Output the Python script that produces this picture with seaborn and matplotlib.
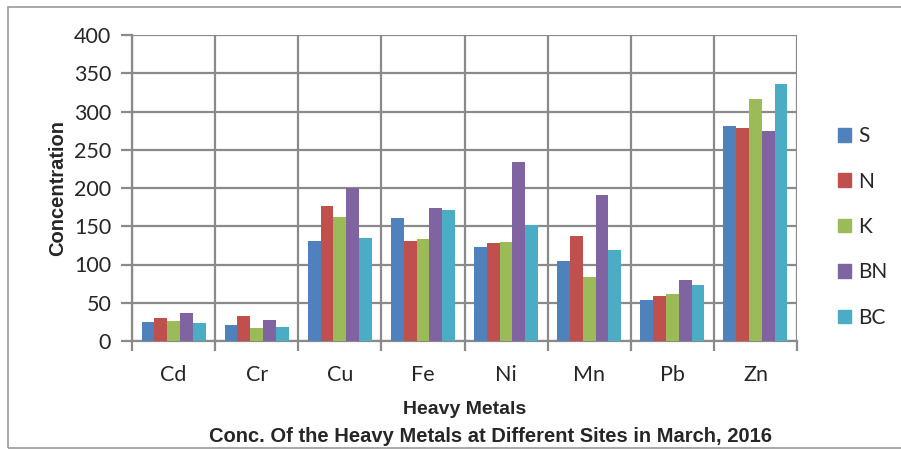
import matplotlib
matplotlib.use("Agg")
import matplotlib.pyplot as plt
import matplotlib.patches as mpatches
import pandas
import seaborn as sns

metals = ["Cd", "Cr", "Cu", "Fe", "Ni", "Mn", "Pb", "Zn"]
sites = ["S", "N", "K", "BN", "BC"]
site_s = [25, 21, 131, 161, 123, 104, 54, 281]
site_n = [30, 33, 177, 131, 128, 137, 59, 279]
site_k = [26, 17, 162, 133, 129, 84, 61, 316]
site_bn = [36, 28, 200, 174, 234, 191, 80, 275]
site_bc = [23, 18, 135, 171, 151, 119, 73, 336]
yticks = [0, 50, 100, 150, 200, 250, 300, 350, 400]

colors = ["#4F81BD", "#C0504D", "#9BBB59", "#8064A2", "#4BACC6"]
grid_color = "#8A8A8A"


def build_frame():
    rows = []
    for site, vals in zip(sites, [site_s, site_n, site_k, site_bn, site_bc]):
        for metal, v in zip(metals, vals):
            rows.append({"metal": metal, "site": site, "value": v})
    return pandas.DataFrame(rows)


def main():
    df = build_frame()
    sns.set_style("white")
    plt.rcParams["font.family"] = ["Lato", "DejaVu Sans"]

    fig = plt.figure(figsize=(9.01, 4.49), dpi=100)
    ax = fig.add_axes([132 / 901, 108 / 449, 665 / 901, 306 / 449])

    sns.barplot(
        data=df, x="metal", y="value", hue="site", order=metals,
        hue_order=sites, palette=colors, width=0.77, saturation=1,
        ax=ax, legend=False, zorder=3,
    )
    for p in ax.patches:
        p.set_linewidth(0)

    ax.set_ylim(0, 400)
    ax.set_yticks(yticks)
    ax.set_yticklabels([str(t) for t in yticks], fontsize=15.5)
    ax.set_xlim(-0.5, len(metals) - 0.5)
    ax.set_xticks(range(len(metals)))
    ax.set_xticklabels(metals, fontsize=15.5)
    ax.set_xticks([i - 0.5 for i in range(len(metals) + 1)], minor=True)

    ax.grid(axis="y", which="major", color=grid_color, linewidth=1.6, zorder=0)
    ax.grid(axis="x", which="minor", color=grid_color, linewidth=1.6, zorder=0)
    ax.grid(axis="x", which="major", visible=False)
    ax.set_axisbelow(True)
    for side in ["top", "right"]:
        ax.spines[side].set_visible(False)
    for side in ["left", "bottom"]:
        ax.spines[side].set_color(grid_color)
        ax.spines[side].set_linewidth(1.6)

    ax.tick_params(axis="y", which="major", length=8, color=grid_color,
                   width=1.6, pad=7, left=True)
    ax.tick_params(axis="x", which="major", length=0, pad=17)
    ax.tick_params(axis="x", which="minor", length=7, color=grid_color,
                   width=1.6, bottom=True)

    ax.set_xlabel("Heavy Metals", fontsize=14, fontweight="bold",
                  family="Liberation Sans", labelpad=12)
    ax.set_ylabel("Concentration", fontsize=14.5, fontweight="bold",
                  family="Liberation Sans", labelpad=5)

    fig.text(491 / 901, 1 - 436 / 449,
             "Conc. Of the Heavy Metals at Different Sites in March, 2016",
             ha="center", va="center", fontsize=14.5, fontweight="bold",
             family="Liberation Sans")

    handles = [mpatches.Patch(color=c, label=s) for c, s in zip(colors, sites)]
    fig.legend(handles=handles, loc="center left",
               bbox_to_anchor=(830 / 901, 1 - 227 / 449), frameon=False,
               fontsize=15, handlelength=0.62, handleheight=0.62,
               labelspacing=1.22, handletextpad=0.35, borderaxespad=0)

    border = mpatches.Rectangle((8 / 901, 0.002), 1, 1 - 7 / 449 - 0.002,
                                transform=fig.transFigure, fill=False,
                                edgecolor="#9A9A9A", linewidth=1.2)
    fig.patches.append(border)

    fig.savefig("out.png", dpi=100)


if __name__ == "__main__":
    main()
